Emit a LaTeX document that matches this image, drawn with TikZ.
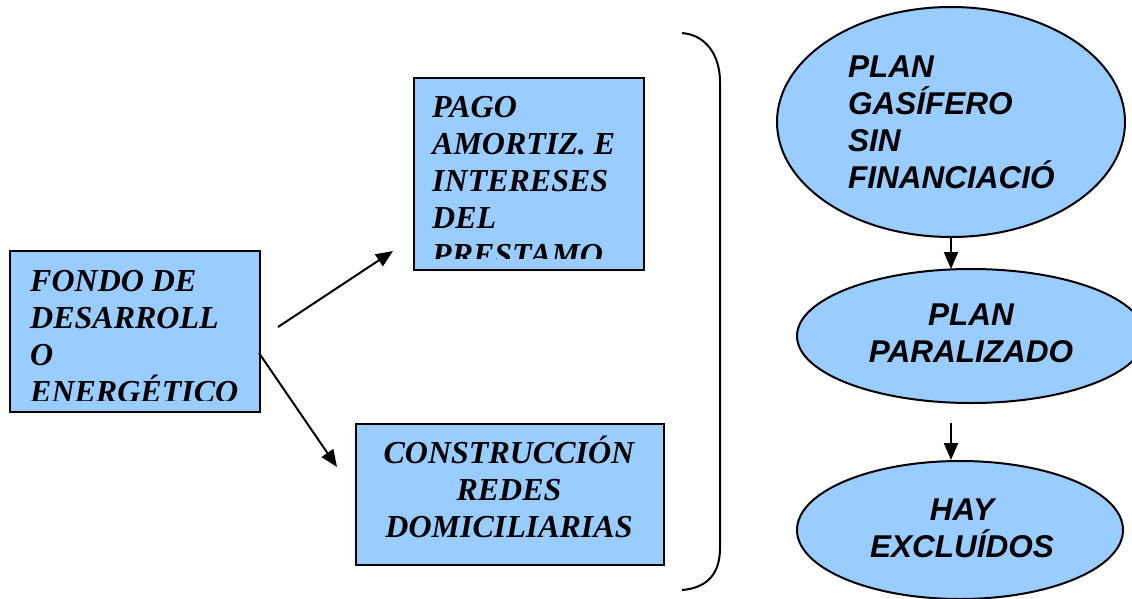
\documentclass[tikz,border=0pt]{standalone}
\usepackage{fontspec}
\usetikzlibrary{shapes.geometric,arrows.meta}
\newfontfamily\tnrfont{Liberation Serif}
\newfontfamily\arlfont{Liberation Sans}
\definecolor{boxblue}{HTML}{99CCFF}
\begin{document}
\begin{tikzpicture}[x=1pt,y=-1pt,
  box/.style={draw=black, line width=2pt, fill=boxblue, inner sep=0pt, anchor=north west},
  oval/.style={ellipse, draw=black, line width=2pt, fill=boxblue, inner sep=0pt},
  serif/.style={font=\tnrfont\bfseries\itshape\fontsize{32}{37}\selectfont, inner sep=0pt},
  sans/.style={font=\arlfont\bfseries\itshape\fontsize{31.5}{37}\selectfont, inner sep=0pt},
  arr/.style={-{Triangle[length=17pt,width=14pt]}, line width=2pt}]
\useasboundingbox (0,0) rectangle (1132,598);
\clip (0,0) rectangle (1132,598);
\fill[white] (0,0) rectangle (1132,598);

% left box
\node[box, minimum width=250pt, minimum height=161pt] (fondo) at (9,250) {};
\begin{scope}
  \clip (9,250) rectangle (259,400);
  \node[serif, anchor=base west, align=left] (fondotxt) at (30,402) {FONDO DE\\DESARROLL\\O\\ENERGÉTICO};
\end{scope}

% top middle box
\node[box, minimum width=230pt, minimum height=192pt] (pago) at (413,77) {};
\begin{scope}
  \clip (413,77) rectangle (643,258);
  \node[serif, anchor=base west, align=left] (pagotxt) at (432,265) {PAGO\\AMORTIZ. E\\INTERESES\\DEL\\PRESTAMO};
\end{scope}

% bottom middle box
\node[box, minimum width=308pt, minimum height=141pt] (constr) at (355,423) {};
\node[serif, anchor=base, align=center] (constrtxt) at (509,537) {CONSTRUCCIÓN\\REDES\\DOMICILIARIAS};

% arrows from left box
\coordinate (a1s) at (278,327);
\coordinate (a1e) at (393,251);
\coordinate (a2s) at (259,353);
\coordinate (a2e) at (337,467);
\draw[arr] (a1s) -- (a1e);
\draw[arr] (a2s) -- (a2e);

% bracket
\coordinate (brt) at (682,33);
\coordinate (brb) at (682,590);
\draw[line width=2pt] (brt) .. controls (706,35) and (720,55) .. (720,82) -- (720,548) .. controls (720,575) and (706,588) .. (brb);

% ellipses
\node[oval, minimum width=348pt, minimum height=230pt] (e1) at (951,122) {};
\node[sans, anchor=base west, align=left] (e1txt) at (848,188) {PLAN\\GASÍFERO\\SIN\\FINANCIACIÓ};
\node[oval, minimum width=348pt, minimum height=134pt] (e2) at (971,336) {};
\node[sans, anchor=base, align=center] (e2txt) at (971,362) {PLAN\\PARALIZADO};
\node[oval, minimum width=326pt, minimum height=138pt] (e3) at (960,530) {};
\node[sans, anchor=base, align=center] (e3txt) at (962,557) {HAY\\EXCLUÍDOS};

\draw[arr] (e1.south -| 951,0) -- (951,269);
\coordinate (a4s) at (951,423);
\draw[arr] (a4s) -- (a4s |- e3.north);
\end{tikzpicture}
\end{document}
